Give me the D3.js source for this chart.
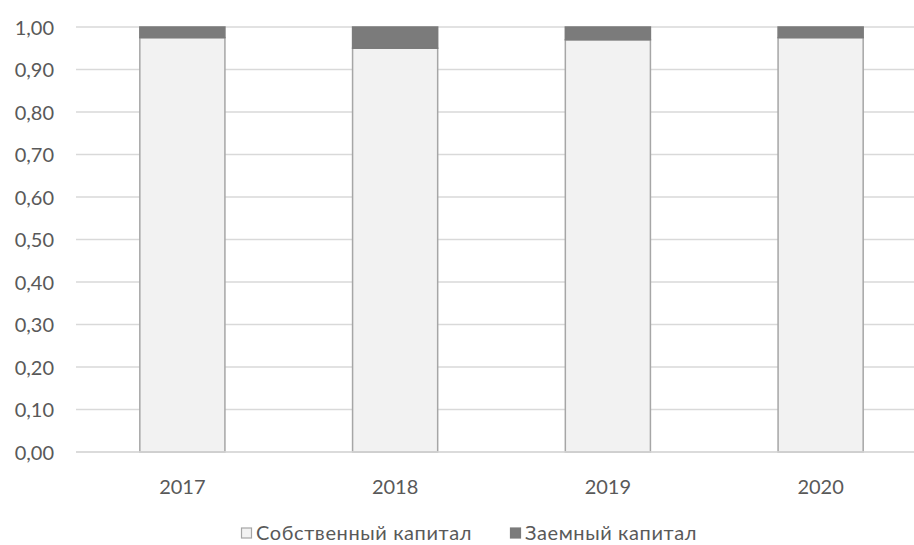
<!DOCTYPE html>
<html>
<head>
<meta charset="utf-8">
<script src="https://cdn.jsdelivr.net/npm/d3@7"></script>
<style>
  html, body { margin: 0; padding: 0; background: #fff; }
  svg { display: block; }
  text { font-family: Lato, "Open Sans", sans-serif; fill: #595959; }
</style>
</head>
<body>
<svg id="chart" width="914" height="545"></svg>
<script>
// Capital structure shares by year
const years = ["2017", "2018", "2019", "2020"];
const equity = [0.975, 0.95, 0.97, 0.975];
const debt = [0.025, 0.05, 0.03, 0.025];
const seriesNames = ["Собственный капитал", "Заемный капитал"];
const yTicks = [0, 0.1, 0.2, 0.3, 0.4, 0.5, 0.6, 0.7, 0.8, 0.9, 1.0];

(function draw() {
  const svg = d3.select("#chart");
  const plotLeft = 76, plotRight = 927, plotTop = 27, plotBottom = 452;
  const fontSize = "20px";

  const x = d3.scaleBand().domain(years).range([plotLeft, plotRight])
    .paddingInner(0.6).paddingOuter(0.3);
  const y = d3.scaleLinear().domain([0, 1]).range([plotBottom, plotTop]);
  const fmt = v => d3.format(".2f")(v).replace(".", ",");

  // horizontal gridlines
  svg.append("g").selectAll("line").data(yTicks).join("line")
    .attr("x1", plotLeft).attr("x2", plotRight)
    .attr("y1", d => y(d)).attr("y2", d => y(d))
    .attr("stroke", "#d9d9d9").attr("stroke-width", 1.3);

  // y axis labels
  const yAxis = d3.axisLeft(y).tickValues(yTicks).tickFormat(fmt).tickSize(0).tickPadding(0);
  const gy = svg.append("g").attr("transform", `translate(${plotLeft - 22},0)`).call(yAxis);
  gy.select(".domain").remove();
  gy.selectAll("text").style("font-size", fontSize).attr("dy", "0.35em")
    .style("font-family", "Lato, 'Open Sans', sans-serif").attr("fill", "#595959");

  // stacked data
  const rows = years.map((yr, i) => ({ year: yr, equity: equity[i], debt: debt[i] }));
  const stacked = d3.stack().keys(["equity", "debt"])(rows);
  const fills = { equity: "#f2f2f2", debt: "#7b7b7b" };
  const strokes = { equity: "#a6a6a6", debt: "#7b7b7b" };

  svg.append("g").selectAll("g").data(stacked).join("g")
    .attr("fill", d => fills[d.key]).attr("stroke", d => strokes[d.key]).attr("stroke-width", 1.5)
    .selectAll("rect").data(d => d).join("rect")
    .attr("x", d => x(d.data.year))
    .attr("width", x.bandwidth())
    .attr("y", d => y(d[1]))
    .attr("height", d => y(d[0]) - y(d[1]));

  // baseline
  svg.append("line").attr("x1", plotLeft).attr("x2", plotRight)
    .attr("y1", plotBottom).attr("y2", plotBottom)
    .attr("stroke", "#d9d9d9").attr("stroke-width", 1.5);

  // x axis labels
  const xAxis = d3.axisBottom(x).tickSize(0).tickPadding(0);
  const gx = svg.append("g").attr("transform", `translate(0,${plotBottom + 35})`).call(xAxis);
  gx.select(".domain").remove();
  gx.selectAll("text").style("font-size", fontSize).attr("dy", "0.35em")
    .style("font-family", "Lato, 'Open Sans', sans-serif").attr("fill", "#595959");

  // legend
  const legendItems = [
    { name: seriesNames[0], key: "equity", x: 241 },
    { name: seriesNames[1], key: "debt", x: 510 }
  ];
  const lg = svg.append("g").selectAll("g").data(legendItems).join("g")
    .attr("transform", d => `translate(${d.x},533)`);
  lg.append("rect").attr("x", 0.5).attr("y", -5).attr("width", 10).attr("height", 10)
    .attr("fill", d => fills[d.key]).attr("stroke", d => strokes[d.key]).attr("stroke-width", 1.2);
  lg.append("text").attr("x", 15).attr("dy", "0.35em").style("font-size", fontSize)
    .style("letter-spacing", "0.6px")
    .text(d => d.name);
})();
</script>
</body>
</html>
